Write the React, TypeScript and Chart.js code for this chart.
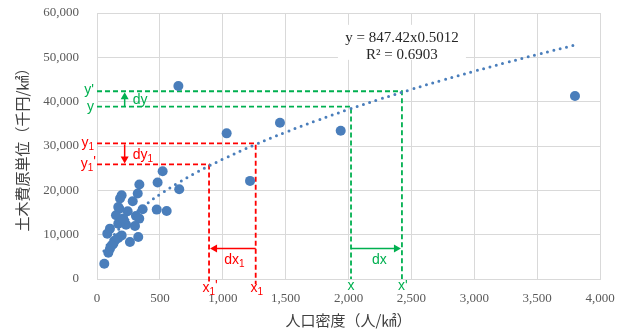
import React, { useEffect, useRef } from "react";
import { Chart, registerables } from "chart.js";
Chart.register(...registerables);

// Scatter data: population density (人/㎢) vs civil engineering unit cost (千円/㎢)
const densityX = [647, 1031, 1455, 1938, 3801, 1217, 522, 482, 337, 654, 196, 324, 183, 284, 475, 554, 177, 151, 244, 363, 310, 336, 169, 231, 302, 103, 82, 169, 328, 262, 130, 103, 90, 58, 209, 196, 143, 117, 169];
const costY = [43550, 32850, 35250, 33440, 41290, 22130, 24320, 21760, 21310, 20250, 18890, 19270, 18140, 17530, 15650, 15340, 15880, 14370, 15270, 15720, 14210, 13620, 12490, 12260, 11950, 11360, 10230, 9230, 9460, 8330, 7960, 6830, 5930, 3440, 13620, 9840, 8710, 7580, 16240];

// Power trendline shown in the chart: y = 847.42 x^0.5012
const TREND_A = 847.42;
const TREND_B = 0.5012;
const trendSampleX = [55, 75, 100, 150, 200, 300, 400, 500, 650, 800, 1000, 1250, 1500, 1750, 2000, 2250, 2500, 2750, 3000, 3250, 3500, 3801];
const equationLines = ["y = 847.42x0.5012", "R² = 0.6903"];

// Annotation guide values
const greenX = 2020;
const greenX2 = 2425;
const greenY = 38900;
const greenY2 = 42350;
const redX1 = 1262;
const redX1p = 891;
const redY1 = 30590;
const redY1p = 25840;
const arrowXValue = 220;
const arrowYValue = 6900;

const xTicks = { min: 0, max: 4000, step: 500 };
const yTicks = { min: 0, max: 60000, step: 10000 };

const GREEN = "#00B050";
const RED = "#FF0000";
const BLUE = "#4a7ebb";

function arrowHead(ctx: CanvasRenderingContext2D, x: number, y: number, dir: "up" | "down" | "left" | "right", color: string) {
  const L = 7, W = 4;
  ctx.fillStyle = color;
  ctx.beginPath();
  if (dir === "up") { ctx.moveTo(x, y); ctx.lineTo(x - W, y + L); ctx.lineTo(x + W, y + L); }
  if (dir === "down") { ctx.moveTo(x, y); ctx.lineTo(x - W, y - L); ctx.lineTo(x + W, y - L); }
  if (dir === "left") { ctx.moveTo(x, y); ctx.lineTo(x + L, y - W); ctx.lineTo(x + L, y + W); }
  if (dir === "right") { ctx.moveTo(x, y); ctx.lineTo(x - L, y - W); ctx.lineTo(x - L, y + W); }
  ctx.closePath();
  ctx.fill();
}

function subText(ctx: CanvasRenderingContext2D, main: string, sub: string, tail: string, x: number, y: number, align: "left" | "right" | "center", color: string) {
  ctx.fillStyle = color;
  ctx.textBaseline = "middle";
  ctx.font = "14px 'Liberation Sans', sans-serif";
  const w1 = ctx.measureText(main).width;
  ctx.font = "10px 'Liberation Sans', sans-serif";
  const w2 = ctx.measureText(sub).width;
  ctx.font = "14px 'Liberation Sans', sans-serif";
  const w3 = ctx.measureText(tail).width;
  const total = w1 + w2 + w3;
  let sx = x;
  if (align === "right") sx = x - total;
  if (align === "center") sx = x - total / 2;
  ctx.textAlign = "left";
  ctx.fillText(main, sx, y);
  ctx.font = "10px 'Liberation Sans', sans-serif";
  ctx.fillText(sub, sx + w1, y + 4);
  ctx.font = "14px 'Liberation Sans', sans-serif";
  ctx.fillText(tail, sx + w1 + w2, y - 2);
}

const guidesPlugin = {
  id: "guides",
  beforeDatasetsDraw(chart: any) {
    const { ctx, scales } = chart;
    const xs = scales.x, ys = scales.y;
    const x0 = xs.getPixelForValue(0);
    const yb = ys.getPixelForValue(0);
    ctx.save();
    ctx.lineWidth = 1.8;
    ctx.setLineDash([5, 3]);
    // green
    ctx.strokeStyle = GREEN;
    const gx = xs.getPixelForValue(greenX), gx2 = xs.getPixelForValue(greenX2);
    const gy = ys.getPixelForValue(greenY), gy2 = ys.getPixelForValue(greenY2);
    ctx.beginPath();
    ctx.moveTo(x0, gy); ctx.lineTo(gx, gy); ctx.lineTo(gx, yb);
    ctx.moveTo(x0, gy2); ctx.lineTo(gx2, gy2); ctx.lineTo(gx2, yb);
    ctx.stroke();
    // red
    ctx.strokeStyle = RED;
    const rx = xs.getPixelForValue(redX1), rxp = xs.getPixelForValue(redX1p);
    const ry = ys.getPixelForValue(redY1), ryp = ys.getPixelForValue(redY1p);
    ctx.beginPath();
    ctx.moveTo(x0, ry); ctx.lineTo(rx, ry); ctx.lineTo(rx, yb + 5);
    ctx.moveTo(x0, ryp); ctx.lineTo(rxp, ryp); ctx.lineTo(rxp, yb + 5);
    ctx.stroke();
    ctx.restore();
  },
  afterDatasetsDraw(chart: any) {
    const { ctx, scales } = chart;
    const xs = scales.x, ys = scales.y;
    const x0 = xs.getPixelForValue(0);
    const yb = ys.getPixelForValue(0);
    const gx = xs.getPixelForValue(greenX), gx2 = xs.getPixelForValue(greenX2);
    const gy = ys.getPixelForValue(greenY), gy2 = ys.getPixelForValue(greenY2);
    const rx = xs.getPixelForValue(redX1), rxp = xs.getPixelForValue(redX1p);
    const ry = ys.getPixelForValue(redY1), ryp = ys.getPixelForValue(redY1p);
    const ax = xs.getPixelForValue(arrowXValue);
    const ay = ys.getPixelForValue(arrowYValue);
    ctx.save();
    ctx.setLineDash([]);
    ctx.lineWidth = 1.5;
    // dy arrow (green, up)
    ctx.strokeStyle = GREEN;
    ctx.beginPath(); ctx.moveTo(ax, gy); ctx.lineTo(ax, gy2 + 5); ctx.stroke();
    arrowHead(ctx, ax, gy2 + 1, "up", GREEN);
    // dx arrow (green, right)
    ctx.beginPath(); ctx.moveTo(gx, ay); ctx.lineTo(gx2 - 5, ay); ctx.stroke();
    arrowHead(ctx, gx2 - 1, ay, "right", GREEN);
    // dy1 arrow (red, down)
    ctx.strokeStyle = RED;
    ctx.beginPath(); ctx.moveTo(ax, ry + 1); ctx.lineTo(ax, ryp - 5); ctx.stroke();
    arrowHead(ctx, ax, ryp - 1, "down", RED);
    // dx1 arrow (red, left)
    ctx.beginPath(); ctx.moveTo(rx, ay); ctx.lineTo(rxp + 5, ay); ctx.stroke();
    arrowHead(ctx, rxp + 1, ay, "left", RED);

    // labels
    ctx.font = "14px 'Liberation Sans', sans-serif";
    ctx.textBaseline = "middle";
    ctx.fillStyle = GREEN;
    ctx.textAlign = "right";
    ctx.fillText("y'", x0 - 3, gy2 - 1);
    ctx.fillText("y", x0 - 3, gy + 1);
    ctx.textAlign = "left";
    ctx.fillText("dy", ax + 8, (gy + gy2) / 2 + 1);
    ctx.textAlign = "center";
    ctx.fillText("dx", (gx + gx2) / 2 + 3, ay + 12);
    ctx.fillText("x", gx, yb + 7);
    ctx.fillText("x'", gx2 + 1, yb + 7);

    subText(ctx, "y", "1", "", x0 - 3, ry, "right", RED);
    subText(ctx, "y", "1", "'", x0 - 1, ryp, "right", RED);
    subText(ctx, "dy", "1", "", ax + 8, (ry + ryp) / 2 + 1, "left", RED);
    subText(ctx, "dx", "1", "", (rx + rxp) / 2 + 2, ay + 12, "center", RED);
    subText(ctx, "x", "1", "'", rxp + 1, yb + 9, "center", RED);
    subText(ctx, "x", "1", "", rx + 1, yb + 9, "center", RED);

    // equation box
    const ex = xs.getPixelForValue(2425);
    const ey = ys.getPixelForValue(54400);
    ctx.fillStyle = "#ffffff";
    ctx.fillRect(ex - 64, ey - 13, 128, 35);
    ctx.fillStyle = "#262626";
    ctx.font = "15px 'Liberation Serif', serif";
    ctx.textAlign = "center";
    ctx.fillText(equationLines[0], ex, ey);
    ctx.fillText(equationLines[1], ex, ey + 17);
    ctx.restore();
  },
};

export default function App() {
  const ref = useRef<HTMLCanvasElement>(null);
  useEffect(() => {
    document.body.style.margin = "0";
    const scatter = densityX.map((x, i) => ({ x, y: costY[i] }));
    const trend = trendSampleX.map((x) => ({ x, y: TREND_A * Math.pow(x, TREND_B) }));
    const tickFont = { family: "'Liberation Serif', serif", size: 13 };
    const chart = new Chart(ref.current!, {
      type: "scatter",
      data: {
        datasets: [
          {
            type: "line",
            data: trend,
            borderColor: BLUE,
            borderWidth: 3,
            borderDash: [0, 6.6],
            borderCapStyle: "round",
            pointRadius: 0,
            tension: 0.4,
            fill: false,
          } as any,
          {
            data: scatter,
            backgroundColor: BLUE,
            borderWidth: 0,
            pointRadius: 5,
            pointHoverRadius: 5,
          },
        ],
      },
      options: {
        animation: false,
        responsive: false,
        layout: { padding: { top: 13, right: 26, left: 0, bottom: 0 } },
        plugins: { legend: { display: false }, tooltip: { enabled: false } },
        scales: {
          x: {
            type: "linear",
            min: xTicks.min,
            max: xTicks.max,
            ticks: { stepSize: xTicks.step, color: "#595959", font: tickFont, padding: 12, maxRotation: 0 },
            grid: { color: "#D9D9D9", drawTicks: false, lineWidth: 1 },
            border: { color: "#D9D9D9" },
            title: {
              display: true,
              text: "人口密度（人/㎢）",
              color: "#404040",
              font: { family: "'Noto Sans CJK JP', sans-serif", size: 15 },
              padding: { top: 0, bottom: 2 },
            },
            afterFit: (s: any) => { s.height = 52; s.paddingLeft = 0; s.paddingRight = 0; },
          },
          y: {
            type: "linear",
            min: yTicks.min,
            max: yTicks.max,
            ticks: { stepSize: yTicks.step, color: "#595959", font: tickFont, padding: 18 },
            grid: { color: "#D9D9D9", drawTicks: false, lineWidth: 1 },
            border: { color: "#D9D9D9" },
            title: {
              display: true,
              text: "土木費原単位（千円/㎢）",
              color: "#404040",
              font: { family: "'Noto Sans CJK JP', sans-serif", size: 15 },
              padding: { top: 13, bottom: 0 },
            },
            afterFit: (s: any) => { s.width = 97; s.paddingTop = 0; s.paddingBottom = 0; },
          },
        },
      },
      plugins: [guidesPlugin],
    });
    return () => chart.destroy();
  }, []);
  return (
    <div style={{ position: "absolute", left: 0, top: 0, width: 626, height: 331, background: "#fff" }}>
      <canvas ref={ref} width={626} height={331} />
    </div>
  );
}
